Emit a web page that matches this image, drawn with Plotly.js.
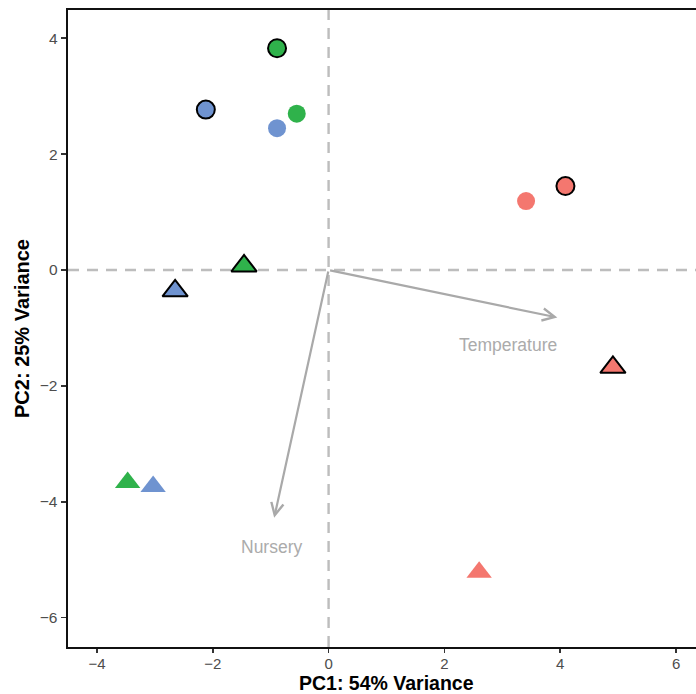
<!DOCTYPE html>
<html>
<head>
<meta charset="utf-8">
<script src="https://cdn.plot.ly/plotly-3.0.1.min.js"></script>
<style>
  html, body { margin: 0; padding: 0; overflow: hidden; background: #ffffff; }
  #chart { width: 706px; height: 694px; }
</style>
</head>
<body>
<div id="chart"></div>
<script>
// ---- data ----
const pc1      = [-0.89, -2.12, -0.55, -0.89, 4.09, 3.41, -1.46, -2.65, 4.91, -3.47, -3.03, 2.60];
const pc2      = [ 3.83,  2.77,  2.70,  2.45, 1.45, 1.19,  0.07, -0.36, -1.68, -3.67, -3.74, -5.22];
const group    = ['B', 'C', 'B', 'C', 'A', 'A', 'B', 'C', 'A', 'B', 'C', 'A'];
const shapeGrp = ['circle','circle','circle','circle','circle','circle',
                  'triangle','triangle','triangle','triangle','triangle','triangle'];
const outlined = [true, true, false, false, true, false, true, true, true, false, false, false];

// loadings (biplot arrows)
const loadingNames = ['Temperature', 'Nursery'];
const loadingPC1   = [3.95, -0.94];
const loadingPC2   = [-0.82, -4.28];
const labelPC1     = [3.10, -0.97];
const labelPC2     = [-1.30, -4.79];

const xTicks = [-4, -2, 0, 2, 4, 6];
const yTicks = [-6, -4, -2, 0, 2, 4];
const xTitle = 'PC1: 54% Variance';
const yTitle = 'PC2: 25% Variance';

// ---- styles ----
const groupColor = { A: '#F4776F', B: '#2FB24B', C: '#6F93D0' };
const symbolOf = { circle: 'circle', triangle: 'triangle-up' };
const sizeOf = { circle: 18, triangle: 22 };

const traces = [];
[false, true].forEach(function (ol) {
  ['circle', 'triangle'].forEach(function (sh) {
    const xs = [], ys = [], cs = [];
    for (let i = 0; i < pc1.length; i++) {
      if (outlined[i] === ol && shapeGrp[i] === sh) {
        xs.push(pc1[i]); ys.push(pc2[i]); cs.push(groupColor[group[i]]);
      }
    }
    traces.push({
      type: 'scatter', mode: 'markers', x: xs, y: ys, showlegend: false,
      hoverinfo: 'x+y',
      marker: {
        symbol: symbolOf[sh], size: sizeOf[sh], color: cs,
        line: { color: ol ? '#000000' : 'rgba(0,0,0,0)', width: ol ? 2 : 0 }
      }
    });
  });
});

const annotations = [];
for (let k = 0; k < loadingNames.length; k++) {
  annotations.push({
    x: loadingPC1[k], y: loadingPC2[k], xref: 'x', yref: 'y',
    ax: 0, ay: 0, axref: 'x', ayref: 'y',
    text: '', showarrow: true, arrowhead: 5, arrowsize: 1.1, arrowwidth: 2.2,
    arrowcolor: '#A9A9A9', standoff: 0, startstandoff: 0
  });
  annotations.push({
    x: labelPC1[k], y: labelPC2[k], xref: 'x', yref: 'y',
    text: loadingNames[k], showarrow: false,
    font: { family: 'Liberation Sans, Arial, sans-serif', size: 17.5, color: '#ABABAB' }
  });
}
// x axis title (placed just below the tick labels)
annotations.push({
  xref: 'paper', yref: 'paper', x: 0.5, y: 0, xanchor: 'center', yanchor: 'top',
  yshift: -24, showarrow: false, borderpad: 0, text: '<b>' + xTitle + '</b>',
  font: { family: 'Liberation Sans, Arial, sans-serif', size: 19.5, color: '#000000' }
});

const layout = {
  width: 706, height: 694,
  margin: { l: 68, r: 1, t: 10, b: 47 },
  paper_bgcolor: '#ffffff', plot_bgcolor: '#ffffff',
  font: { family: 'Liberation Sans, Arial, sans-serif' },
  xaxis: {
    range: [-4.5, 6.5], tickvals: xTicks, ticktext: xTicks.map(v => v < 0 ? '\u2212' + Math.abs(v) : String(v)),
    showgrid: false, zeroline: false,
    showline: true, linecolor: '#111111', linewidth: 2.4, mirror: true,
    ticks: 'outside', ticklen: 4, tickwidth: 1.8, tickcolor: '#333333', ticklabelstandoff: -2,
    tickfont: { size: 15, color: '#4D4D4D' }
  },
  yaxis: {
    range: [-6.51, 4.49], tickvals: yTicks, ticktext: yTicks.map(v => v < 0 ? '\u2212' + Math.abs(v) : String(v)),
    showgrid: false, zeroline: false,
    showline: true, linecolor: '#111111', linewidth: 2.4, mirror: true,
    ticks: 'outside', ticklen: 5, tickwidth: 1.8, tickcolor: '#333333',
    tickfont: { size: 15.5, color: '#4D4D4D' },
    title: { text: '<b>' + yTitle + '</b>', font: { size: 20, color: '#000000' }, standoff: 5 }
  },
  shapes: [
    { type: 'line', xref: 'x', yref: 'paper', x0: 0, x1: 0, y0: 0, y1: 1,
      line: { color: '#BDBDBD', width: 2.4, dash: '11px,8px' }, layer: 'below' },
    { type: 'line', xref: 'paper', yref: 'y', x0: 0, x1: 1, y0: 0, y1: 0,
      line: { color: '#BDBDBD', width: 2.4, dash: '11px,8px' }, layer: 'below' }
  ],
  annotations: annotations
};

Plotly.newPlot('chart', traces, layout, { displayModeBar: false, staticPlot: true });
</script>
</body>
</html>
